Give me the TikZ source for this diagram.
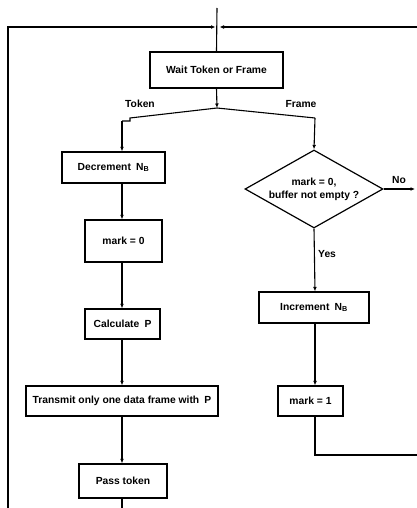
\documentclass[tikz,border=0pt]{standalone}
\usepackage{fontspec}
\setmainfont{Liberation Sans}
\usetikzlibrary{arrows.meta,shapes.geometric}
\tikzset{
  stepbox/.style={draw, line width=1.2pt, rectangle, inner sep=0pt, align=center,
    font=\fontsize{10.3}{12}\selectfont\bfseries},
  decision/.style={draw, line width=1.2pt, diamond, aspect=1.77, inner sep=0pt,
    minimum width=138pt, minimum height=78pt, align=center,
    font=\fontsize{10.3}{13}\selectfont\bfseries},
  flow/.style={line width=1.1pt},
  arr/.style={line width=1.1pt, -{Latex[length=4.5pt,width=3.8pt]}},
  lbl/.style={font=\fontsize{10.3}{12}\selectfont\bfseries, inner sep=0pt}
}
\begin{document}
\begin{tikzpicture}[x=1pt,y=-1pt]
  \useasboundingbox (0,0) rectangle (417,508);

  % column guides
  \coordinate (lc) at (122,0);
  \coordinate (rc) at (315,0);

  % process boxes
  \node[stepbox, minimum width=133pt, minimum height=36pt] (wait) at (216.5,70) {Wait Token or Frame};
  \node[stepbox, minimum width=103pt, minimum height=31pt] (dec) at (113.5,167.5) {Decrement\enspace N\textsubscript{B}};
  \node[stepbox, minimum width=77pt, minimum height=42pt] (mark0) at (123.5,241) {mark = 0};
  \node[stepbox, minimum width=75pt, minimum height=30pt] (calc) at (122.5,324) {Calculate\enspace P};
  \node[stepbox, minimum width=192pt, minimum height=30pt] (trans) at (122,401) {Transmit only one data frame with\enspace P};
  \node[stepbox, minimum width=88pt, minimum height=34pt] (pass) at (123,481) {Pass token};

  \node[decision] (dia) at (314,189) {mark = 0,\\ buffer not empty ?};
  \node[stepbox, minimum width=110pt, minimum height=31pt] (inc) at (314,307.5) {Increment\enspace N\textsubscript{B}};
  \node[stepbox, minimum width=65pt, minimum height=30pt] (mark1) at (310.5,401) {mark = 1};

  % entry and return loops at the top
  \coordinate (top) at (217,8);
  \coordinate (join) at (217,27);
  \coordinate (loopL) at (8,27);
  \coordinate (loopLB) at (8,508);
  \coordinate (loopR) at (417,27);
  \draw[flow] (top) -- (wait.north);
  \draw[arr] (loopLB) -- (loopL) -- ([xshift=-1.5pt]join);
  \draw[arr] (loopR) -- ([xshift=2.5pt]join);

  % branching after the wait box
  \coordinate (split) at (217,108);
  \draw[arr] (wait.south) -- (split);
  \draw[flow] (split) -- (130,118) -- (130,121) -- (122,121);
  \draw[arr] (122,121) -- (dec.north -| lc);
  \draw[flow] (split) -- (315,118);
  \draw[arr] (315,118) -- (dia.north);
  \node[lbl] (tok) at (140,104) {Token};
  \node[lbl] (frm) at (301,104) {Frame};

  % left column
  \draw[arr] (dec.south -| lc) -- (mark0.north -| lc);
  \draw[arr] (mark0.south -| lc) -- (calc.north -| lc);
  \draw[arr] (calc.south -| lc) -- (trans.north -| lc);
  \draw[arr] (trans.south -| lc) -- (pass.north -| lc);
  \coordinate (passout) at (122,508);
  \draw[flow] (pass.south -| lc) -- (passout);

  % right column
  \coordinate (noend) at (415,189);
  \draw[arr] (dia.east) -- (noend);
  \node[lbl] (no) at (399,180) {No};
  \draw[arr] (dia.south) -- (inc.north -| rc);
  \node[lbl, anchor=west] (yes) at (318,254) {Yes};
  \draw[arr] (inc.south -| rc) -- (mark1.north -| rc);
  \coordinate (retB) at (315,455);
  \coordinate (retR) at (417,455);
  \draw[flow] (mark1.south -| rc) -- (retB) -- (retR);
\end{tikzpicture}
\end{document}
